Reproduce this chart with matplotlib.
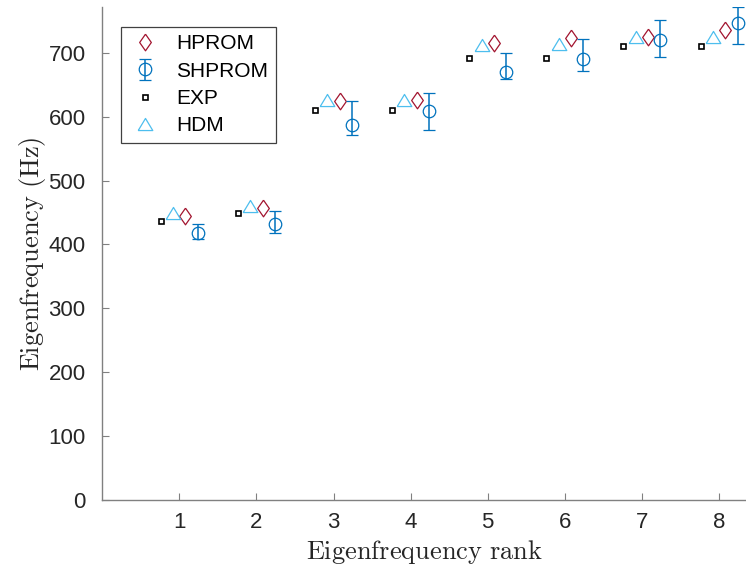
import numpy as np
import matplotlib
matplotlib.use("Agg")
import matplotlib.pyplot as plt

# eigenfrequency rank
ranks = np.arange(1, 9)

# values (Hz)
exp_freq = [437, 449, 610, 610, 692, 692, 710, 711]
hdm_freq = [449, 460, 626, 626, 712, 714, 725, 725]
hprom_freq = [444, 457, 624, 626, 715, 723, 725, 736]
shprom_mean = [418, 432, 587, 609, 670, 691, 720, 747]
shprom_low = [409, 418, 572, 579, 659, 671, 693, 714]
shprom_high = [432, 453, 624, 637, 699, 721, 751, 771]

red = "#A2142F"
blue = "#0072BD"
cyan = "#4DBEEE"
axis_grey = "#808080"

plt.rcParams["font.family"] = ["Liberation Sans", "DejaVu Sans"]
plt.rcParams["mathtext.fontset"] = "cm"

diamond = [(0, 1), (0.7, 0), (0, -1), (-0.7, 0), (0, 1)]
triangle = [(-1, -0.83), (1, -0.83), (0, 0.83), (-1, -0.83)]

fig = plt.figure(figsize=(7.46, 5.71), dpi=100)
ax = fig.add_axes([0.137, 0.1245, 0.863, 0.8635])

h_hprom, = ax.plot(ranks + 0.08, hprom_freq, linestyle="none", marker=diamond, markersize=12,
                   markerfacecolor="none", markeredgecolor=red, markeredgewidth=0.9)

err = [np.array(shprom_mean) - np.array(shprom_low), np.array(shprom_high) - np.array(shprom_mean)]
h_shprom = ax.errorbar(ranks + 0.24, shprom_mean, yerr=err, linestyle="none", marker="o", markersize=9,
                       markerfacecolor="none", markeredgecolor=blue, markeredgewidth=0.9,
                       ecolor=blue, elinewidth=1.1, capsize=4.6, capthick=1.1)

h_exp, = ax.plot(ranks - 0.24, exp_freq, linestyle="none", marker="s", markersize=3.6,
                 markerfacecolor="white", markeredgecolor="black", markeredgewidth=1.2)

h_hdm, = ax.plot(ranks - 0.08, hdm_freq, linestyle="none", marker=triangle, markersize=10.5,
                 markerfacecolor="none", markeredgecolor=cyan, markeredgewidth=0.9)

ax.set_xlim(0, 8.35)
ax.set_ylim(0, 772)
ax.set_xticks(ranks)
ax.set_yticks(np.arange(0, 701, 100))

for side in ["top", "right"]:
    ax.spines[side].set_visible(False)
for side in ["left", "bottom"]:
    ax.spines[side].set_color(axis_grey)
    ax.spines[side].set_linewidth(1.0)

ax.tick_params(direction="in", length=5, width=0.8, color=axis_grey,
               labelsize=16, labelcolor="#262626", pad=9)
ax.tick_params(axis="y", pad=12)

ax.set_xlabel(r"$\mathrm{Eigenfrequency\ rank}$", fontsize=19, color="#262626", labelpad=3)
ax.set_ylabel(r"$\mathrm{Eigenfrequency\ (Hz)}$", fontsize=19, color="#262626", labelpad=0)

# legend order as in the original: HPROM, SHPROM, EXP, HDM
leg = ax.legend([h_hprom, h_shprom, h_exp, h_hdm], ["HPROM", "SHPROM", "EXP", "HDM"],
                loc="upper left", bbox_to_anchor=(0.0295, 0.959), borderaxespad=0,
                fontsize=15, frameon=True, fancybox=False, framealpha=1,
                edgecolor="#404040", handlelength=1.6, handletextpad=0.7,
                borderpad=0.35, labelspacing=0.4)
leg.get_frame().set_linewidth(0.9)

fig.savefig("out.png", dpi=100)
